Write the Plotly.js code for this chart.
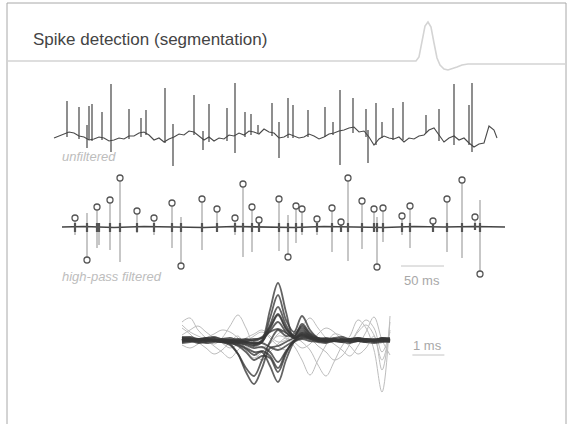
<!DOCTYPE html>
<html><head><meta charset="utf-8">
<script src="https://cdn.plot.ly/plotly-3.0.1.min.js"></script>
<style>html,body{margin:0;padding:0;background:#fff}#chart{width:568px;height:424px}</style>
</head><body><div id="chart"></div>
<script>
// ---------- data ----------
const FS_HZ = 860; // sampling rate of the recordings (samples per second)

// unfiltered recording: slow baseline (sample index, amplitude a.u.)
const rawBaseS = [0,5,10,15,20,25,30,35,40,45,50,55,60,65,70,75,80,85,90,95,100,105,110,115,120,125,130,135,140,145,150,155,160,165,170,175,180,185,190,195,200,205,210,215,220,225,230,235,240,245,250,255,260,265,270,275,280,285,290,295,300,305,310,315,320,325,330,335,340,345,350,355,360,365,370,375,380,385,390,395,400,405,410,415,420,425,430,435,440,443];
const rawBaseV = [-3,-1,1,3,2,-1,-2,-5,-4,-2,-3,-6,-5,-3,-4,-1,-1,2,3,0,-5,-3,-7,-4,-2,1,0,4,3,-1,-5,-2,-6,-3,-4,0,-1,2,0,4,3,1,6,3,2,-3,-2,1,-1,-3,-2,1,-1,-4,-2,1,2,4,5,7,8,3,4,-2,-10,-4,-1,-3,-4,-2,-7,-3,-4,-1,0,5,7,0,-7,-3,-1,-5,-3,-8,-12,-9,-8,9,5,-3];
// unfiltered recording: spikes (sample index, max, min)
const rawSpikeS   = [13,25,33,35,38,48,57,75,87,92,111,119,140,149,155,173,181,191,197,204,218,225,234,239,254,271,279,286,299,312,314,322,328,339,349,372,385,400,415,418];
const rawSpikeTop = [34,28,10,29,31,23,51,26,17,25,47,11,40,4,31,27,52,23,21,10,32,13,37,30,25,28,13,45,37,26,5,32,13,27,33,20,26,51,30,52];
const rawSpikeBot = [-2,-4,-13,-5,-6,-5,-17,-4,-2,0,-8,-31,0,-15,-7,-6,-18,-2,0,2,-1,-23,-3,-3,-2,-2,0,-30,2,-2,-28,-10,-3,-5,-5,2,-6,-10,-10,-17];

// high-pass filtered recording
const filtBaseS = [8,30,60,90,120,150,180,210,240,270,300,330,360,390,420,451];
const filtBaseV = [0,0.5,-0.5,0.5,0,-0.5,0.5,0,-0.5,0.5,0,-0.5,0.5,0,0.5,0];
const filtSpikeS   = [21,33,43,45,56,66,83,100,118,127,148,163,181,189,198,205,225,234,242,248,263,278,287,294,308,320,323,329,348,356,379,393,408,421,426];
const filtSpikeTop = [9,14,20,4,27,49,16,9,24,10,28,18,9,43,20,7,28,12,21,18,8,19,5,49,26,18,10,19,11,21,6,28,47,10,27];
const filtSpikeBot = [-8,-33,-21,-18,-23,-35,-6,-8,-21,-39,-23,-5,-8,-30,-25,-5,-24,-30,-16,-8,-8,-25,-5,-34,-22,-5,-40,-15,-8,-21,-5,-25,-31,-3,-47];
// detected peak (circle) of each spike, null = not detected
const filtPeakV = [9,-33,20,null,27,49,16,9,24,-39,28,18,9,43,20,7,28,-30,21,18,8,19,5,49,26,18,-40,19,11,21,6,28,47,10,-47];

// segmented spike waveforms (time in ms, amplitude a.u.)
const wfT = [0,0.25,0.5,0.75,1,1.25,1.5,1.75,2,2.25,2.5,2.75,3,3.25,3.5,3.75,4,4.25,4.5,4.75,5,5.25,5.5,5.75,6,6.25,6.5];
const wfDark = [
  [2,1,0,1,-1,0,-1,-2,-3,-5,0,30,57,28,2,8,4,0,-1,1,0,-1,1,0,-1,2,0],
  [1,0,1,0,0,-1,-2,-3,-4,-6,-2,22,45,20,8,24,10,2,0,-1,1,0,-1,1,0,1,0],
  [0,1,0,-1,0,0,-1,-2,-2,-4,-2,15,33,15,4,14,6,1,0,0,-1,0,1,0,-1,0,0],
  [-1,0,1,0,-1,0,0,-1,-2,-3,-1,11,25,11,4,10,4,0,1,0,0,-1,0,1,0,-1,0],
  [1,0,0,1,0,-1,-2,-4,-8,-12,-12,-26,-42,-20,-2,6,3,1,0,0,1,0,-1,0,0,1,0],
  [0,1,0,0,-1,-2,-3,-6,-12,-20,-16,-18,-32,-14,0,5,2,0,-1,0,0,1,0,-1,0,1,0],
  [0,-1,0,1,0,-1,-4,-14,-32,-44,-28,-8,-6,-2,2,4,2,1,0,0,-1,0,1,0,0,-1,0],
  [1,0,-1,0,0,-2,-5,-14,-28,-36,-20,-2,10,4,6,12,5,0,-1,1,0,0,-1,0,1,0,0],
  [2,3,1,0,2,1,0,-1,0,1,2,8,11,7,2,5,2,1,2,0,-1,1,2,0,-1,1,2],
  [-2,-1,-3,-2,0,-1,-2,-1,-2,-3,-3,-7,-10,-6,-1,2,1,-1,-2,-1,0,-2,-1,-2,0,-1,-2],
  [3,2,1,2,3,1,2,0,1,-1,2,9,18,8,2,7,3,2,1,2,3,1,2,1,0,2,1],
  [-3,-2,-1,-3,-2,-2,-1,-3,-5,-8,-7,-12,-22,-11,-2,1,-1,-2,-3,-1,-2,-3,-1,-2,-3,-2,-1],
  [1,-1,0,2,1,-1,0,1,-1,0,3,13,26,12,3,16,7,2,0,1,-1,0,1,-1,0,1,-1],
  [-1,0,-2,-1,0,-2,-3,-5,-9,-15,-11,-16,-28,-12,-1,3,1,-1,0,-1,-2,0,-1,0,-2,-1,0]
];
const wfLight = [
  [18,22,10,2,-4,2,14,25,12,-5,-8,-3,4,2,-6,-20,-35,-20,-5,6,4,-2,8,15,5,-20,10],
  [12,6,-2,-8,-14,-10,-2,4,-10,-18,-12,-4,6,10,4,-2,-10,-25,-36,-22,-6,4,20,12,-10,-52,24],
  [5,10,14,8,2,-3,-8,-4,2,6,10,4,-2,0,8,14,22,12,2,-4,-10,-16,-6,8,23,0,-15],
  [-5,-8,-4,2,6,10,8,2,-6,-12,-20,-12,-4,2,-2,-8,-4,6,12,8,0,-6,-14,-8,4,-30,18],
  [15,8,4,0,-6,-12,-18,-10,-2,4,8,2,-6,-10,-2,6,2,-6,-12,-20,-16,-4,10,20,12,-12,8]
];

// slide header decoration (example spike icon on the rule)
const headerX = [7,416,419,422,425,428,431,434,437,440,444,448,452,457,462,468,475,566];
const headerY = [61,61,57,40,26,22,27,43,58,65,69,70,69,67,65,64,64,64];

// ---------- traces ----------
function segs(xs, a, b) {
  const X = [], Y = [];
  xs.forEach((s, i) => { X.push(s, s, null); Y.push(b[i], a[i], null); });
  return {X, Y};
}
const traces = [];
traces.push({x: headerX, y: headerY, xaxis: 'x4', yaxis: 'y4', mode: 'lines',
  line: {color: '#d4d4d4', width: 1.6}, hoverinfo: 'skip'});

traces.push({x: rawBaseS, y: rawBaseV, xaxis: 'x', yaxis: 'y', mode: 'lines',
  line: {color: '#4a4a4a', width: 1.1}, hoverinfo: 'skip'});
const rs = segs(rawSpikeS, rawSpikeTop, rawSpikeBot);
traces.push({x: rs.X, y: rs.Y, xaxis: 'x', yaxis: 'y', mode: 'lines',
  line: {color: '#444', width: 1.2}, hoverinfo: 'skip'});

const fs = segs(filtSpikeS, filtSpikeTop, filtSpikeBot);
traces.push({x: fs.X, y: fs.Y, xaxis: 'x', yaxis: 'y2', mode: 'lines',
  line: {color: '#999', width: 1.1}, hoverinfo: 'skip'});
traces.push({x: filtBaseS, y: filtBaseV, xaxis: 'x', yaxis: 'y2', mode: 'lines',
  line: {color: '#444', width: 1.6}, hoverinfo: 'skip'});
const fb = segs(filtSpikeS, filtSpikeTop.map(v => Math.min(v, 4)), filtSpikeBot.map(v => Math.max(v, -5)));
traces.push({x: fb.X, y: fb.Y, xaxis: 'x', yaxis: 'y2', mode: 'lines',
  line: {color: '#555', width: 2.2}, hoverinfo: 'skip'});
traces.push({x: filtSpikeS, y: filtPeakV, xaxis: 'x', yaxis: 'y2', mode: 'markers',
  marker: {symbol: 'circle', size: 6, color: '#fff', line: {color: '#555', width: 1.3}}, hoverinfo: 'skip'});

wfLight.forEach(w => traces.push({x: wfT, y: w, xaxis: 'x3', yaxis: 'y3', mode: 'lines',
  line: {color: '#bdbdbd', width: 1, shape: 'spline', smoothing: 1}, hoverinfo: 'skip'}));
wfDark.forEach(w => traces.push({x: wfT, y: w, xaxis: 'x3', yaxis: 'y3', mode: 'lines',
  line: {color: 'rgba(55,55,55,0.78)', width: 1.8, shape: 'spline', smoothing: 1}, hoverinfo: 'skip'}));

// ---------- layout ----------
const H = 424, W = 568;
const hid = {visible: false, fixedrange: true};
const layout = {
  width: W, height: H, margin: {l: 0, r: 0, t: 0, b: 0},
  paper_bgcolor: '#fff', plot_bgcolor: 'rgba(0,0,0,0)', showlegend: false,
  font: {family: 'Liberation Sans, Arial, sans-serif'},
  title: {text: 'Spike detection (segmentation)', x: 33 / W, xanchor: 'left', xref: 'paper',
    y: 1 - 39 / H, yanchor: 'middle', yref: 'paper', font: {size: 17, color: '#444'}},
  xaxis: Object.assign({domain: [0, 1], range: [-54, W - 54]}, hid),
  yaxis: Object.assign({domain: [(H - 170) / H, (H - 80) / H], range: [-35, 55], anchor: 'x'}, hid),
  yaxis2: Object.assign({domain: [(H - 278) / H, (H - 170) / H], range: [-51, 57], anchor: 'x'}, hid),
  xaxis3: Object.assign({domain: [0, 1], range: [-182 / 32, (W - 182) / 32], anchor: 'y3'}, hid),
  yaxis3: Object.assign({domain: [(H - 410) / H, (H - 278) / H], range: [-70, 62], anchor: 'x3'}, hid),
  xaxis4: Object.assign({domain: [0, 1], range: [0, W], anchor: 'y4'}, hid),
  yaxis4: Object.assign({domain: [0, 1], range: [H, 0], anchor: 'x4'}, hid),
  shapes: [
    {type: 'rect', xref: 'paper', yref: 'paper', x0: 7 / W, x1: 566 / W, y0: -0.05, y1: 1 - 3 / H,
      line: {color: '#a8a8a8', width: 1}, layer: 'below'},
    {type: 'line', xref: 'x', yref: 'paper', x0: 347, x1: 347 + 0.05 * FS_HZ, y0: 1 - 266 / H, y1: 1 - 266 / H,
      line: {color: '#c4c4c4', width: 1}},
    {type: 'line', xref: 'x3', yref: 'paper', x0: 7.2, x1: 8.2, y0: 1 - 355 / H, y1: 1 - 355 / H,
      line: {color: '#c4c4c4', width: 1}}
  ],
  annotations: [
    {text: '<i>unfiltered</i>', xref: 'paper', yref: 'paper', x: 60 / W, y: 1 - 157 / H, xanchor: 'left', yanchor: 'middle',
      showarrow: false, font: {size: 13, color: '#bdbdbd'}},
    {text: '<i>high-pass filtered</i>', xref: 'paper', yref: 'paper', x: 60 / W, y: 1 - 276 / H, xanchor: 'left', yanchor: 'middle',
      showarrow: false, font: {size: 13, color: '#bdbdbd'}},
    {text: '50 ms', xref: 'paper', yref: 'paper', x: 422 / W, y: 1 - 280 / H, xanchor: 'center', yanchor: 'middle',
      showarrow: false, font: {size: 13, color: '#a8a8a8'}},
    {text: '1 ms', xref: 'paper', yref: 'paper', x: 427 / W, y: 1 - 345 / H, xanchor: 'center', yanchor: 'middle',
      showarrow: false, font: {size: 13, color: '#a8a8a8'}}
  ]
};
Plotly.newPlot('chart', traces, layout, {displayModeBar: false, staticPlot: true});
</script></body></html>
